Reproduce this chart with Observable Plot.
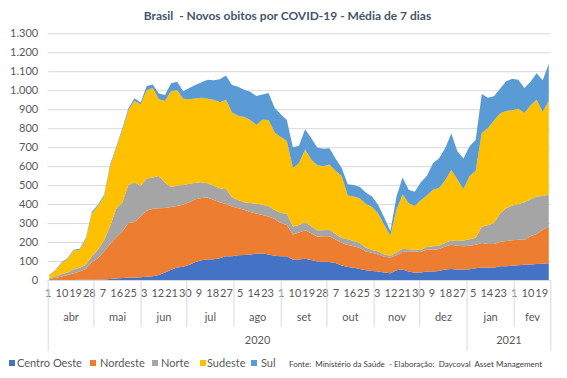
<!DOCTYPE html>
<html>
<head>
<meta charset="utf-8">
<script src="https://cdn.jsdelivr.net/npm/d3@7"></script>
<script src="https://cdn.jsdelivr.net/npm/@observablehq/plot@0.6"></script>
<style>
  body { margin: 0; background: #fff; font-family: Lato, "Open Sans", sans-serif; }
  #wrap { position: relative; width: 567px; height: 378px; overflow: hidden; background: #fff; }
  #title { position: absolute; left: 4px; top: 8px; width: 567px; text-align: center; font-weight: bold; font-size: 12px; color: #44546a; line-height: 16px; }
  #chart { position: absolute; left: 0; top: 24px; }
  .sq { position: absolute; top: 360px; width: 6px; height: 6px; }
  .lt { position: absolute; top: 355px; font-size: 11px; line-height: 16px; color: #595959; white-space: nowrap; }
  #src { position: absolute; left: 289px; top: 357px; font-size: 8px; line-height: 14px; color: #404040; white-space: nowrap; }
</style>
</head>
<body>
<div id="wrap">
  <div id="title">Brasil&nbsp; - Novos obitos por COVID-19 - Média de 7 dias</div>
  <div id="chart"></div>
  <div id="legend"></div>
  <div id="src">Fonte:&nbsp; Ministério da Saúde&nbsp; - Elaboração:&nbsp; Daycoval&nbsp; Asset Management</div>
</div>
<script>
// ---- Data (7-day average of new deaths; one sample every 4 days from 2020-04-02) ----
const seriesNames = ["Centro Oeste", "Nordeste", "Norte", "Sudeste", "Sul"];
const colors = ["#4472C4", "#ED7D31", "#A5A5A5", "#FFC000", "#5B9BD5"];
const firstSampleDate = "2020-04-02";
const stepDays = 4;

const centroOeste = [0,0,0,0,0,1,1,2,2,3,5,8,10,12,12,
  15,17,20,27,40,54,66,70,80,95,104,108,110,115,125,
  125,130,132,135,138,140,135,128,125,125,107,108,112,105,98,
  96,95,90,76,68,65,58,52,48,45,40,35,52,55,45,
  38,40,45,45,48,55,58,55,55,57,62,66,65,65,72,
  72,75,78,80,82,84,86,88];
const nordeste = [5,10,18,26,35,44,57,93,113,147,185,217,245,288,293,
  320,348,355,351,340,331,324,328,330,330,328,327,312,295,275,
  262,248,238,223,212,202,200,194,175,165,133,142,150,142,131,
  134,135,124,120,117,113,110,98,95,90,82,83,78,93,105,
  112,108,117,115,115,122,128,125,123,123,124,129,125,125,128,
  133,135,134,132,148,159,179,194];
const norte = [5,8,12,14,20,20,22,30,45,60,95,150,155,200,210,
  162,170,165,170,134,105,108,102,97,87,83,75,75,73,79,
  49,44,40,48,52,54,53,47,53,60,42,40,44,36,33,
  32,35,29,25,30,27,27,20,15,15,13,10,15,17,12,
  10,10,13,18,17,18,24,26,30,35,36,85,98,110,150,
  173,182,188,198,195,197,177,168];
const sudeste = [16,32,58,72,100,95,135,227,230,230,315,320,380,395,430,
  428,465,472,404,429,506,502,455,445,445,445,445,453,454,471,
  446,444,449,437,415,449,455,408,400,383,308,325,382,352,343,
  338,343,333,327,230,235,235,230,227,200,155,107,225,285,243,
  230,262,270,297,305,330,370,324,272,333,353,495,512,540,528,
  512,503,503,470,495,510,443,495];
const sul = [2,3,4,4,5,5,6,8,6,8,8,7,10,10,13,
  10,22,18,31,32,41,45,40,60,71,82,100,103,121,128,
  145,152,143,149,153,133,142,131,120,110,110,93,107,113,93,
  92,86,64,44,60,60,60,60,55,45,40,23,70,90,70,
  75,95,105,140,157,170,192,148,160,157,164,205,160,128,130,
  157,165,152,132,125,140,167,195];

// ---- Axis labels ----
const monthLabels = ["abr", "mai", "jun", "jul", "ago", "set", "out", "nov", "dez", "jan", "fev"];
const yearLabels = ["2020", "2021"];
const axisStart = "2020-04-01";
const axisEnd = "2021-02-25";
const yearStart2021 = "2021-01-01";

// ---- Build tidy table ----
const parse = d3.utcParse("%Y-%m-%d");
const start = parse(firstSampleDate);
const dates = centroOeste.map((_, i) => d3.utcDay.offset(start, i * stepDays));
const seriesValues = [centroOeste, nordeste, norte, sudeste, sul];
const rows = seriesNames.flatMap((name, s) =>
  seriesValues[s].map((v, i) => ({date: dates[i], region: name, value: v})));

const xStart = parse(axisStart), xEnd = parse(axisEnd);
const monthStarts = d3.utcMonth.range(xStart, xEnd);
const monthBounds = [...monthStarts, xEnd];
const monthCenters = monthStarts.map((m, i) => new Date((+m + +monthBounds[i + 1]) / 2));
const yearBounds = [xStart, parse(yearStart2021), xEnd];
const yearCenters = yearLabels.map((_, i) => new Date((+yearBounds[i] + +yearBounds[i + 1]) / 2));
const innerMonthLines = monthStarts.filter(m => m.getUTCMonth() !== 0 && +m !== +xStart);
const dayTicks = d3.utcDay.range(xStart, xEnd, 9);
const yTicks = d3.range(0, 1301, 100);
const fmt = d3.formatLocale({decimal: ",", thousands: ".", grouping: [3], currency: ["R$", ""]}).format(",d");

const chart = Plot.plot({
  width: 567,
  height: 330,
  marginLeft: 47.7,
  marginRight: 16.7,
  marginTop: 9.3,
  marginBottom: 74,
  style: {fontFamily: "Lato, 'Open Sans', sans-serif", fontSize: "11px", color: "#595959", background: "#fff", overflow: "visible"},
  x: {type: "utc", domain: [xStart, xEnd], label: null},
  y: {domain: [0, 1300], label: null},
  color: {domain: seriesNames, range: colors},
  marks: [
    Plot.gridY(yTicks, {stroke: "#d9d9d9", strokeOpacity: 1}),
    Plot.areaY(rows, {x: "date", y: "value", fill: "region", order: seriesNames}),
    Plot.ruleY([0], {stroke: "#d9d9d9"}),
    Plot.axisY(yTicks, {tickSize: 0, tickPadding: 10, tickFormat: fmt, fill: "#595959", fontSize: 11}),
    Plot.axisX(dayTicks, {tickSize: 0, tickPadding: 9, tickFormat: d3.utcFormat("%-d"), fill: "#595959", fontSize: 11}),
    Plot.axisX(monthCenters, {tickSize: 0, tickPadding: 33, tickFormat: (d, i) => monthLabels[i], fill: "#595959", fontSize: 11}),
    Plot.axisX(yearCenters, {tickSize: 0, tickPadding: 56, tickFormat: (d, i) => yearLabels[i], fill: "#595959", fontSize: 11}),
    Plot.axisX(innerMonthLines, {tickSize: 47, tickFormat: () => "", stroke: "#d9d9d9"}),
    Plot.axisX(yearBounds, {tickSize: 71, tickFormat: () => "", stroke: "#d9d9d9"})
  ]
});
document.getElementById("chart").appendChild(chart);

// ---- Legend ----
const legendPos = [[9, 17], [90, 100], [152, 161], [200, 207], [251, 261]];
const legend = document.getElementById("legend");
seriesNames.forEach((name, i) => {
  const sq = document.createElement("div");
  sq.className = "sq";
  sq.style.left = legendPos[i][0] + "px";
  sq.style.background = colors[i];
  legend.appendChild(sq);
  const t = document.createElement("div");
  t.className = "lt";
  t.style.left = legendPos[i][1] + "px";
  t.textContent = name;
  legend.appendChild(t);
});
</script>
</body>
</html>
